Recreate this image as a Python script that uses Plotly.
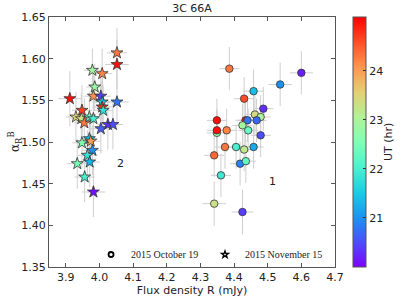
import numpy as np
import plotly.graph_objects as go

# 2015 November 15 (stars)
nov_flux = [4.052, 4.052, 3.979, 4.008, 3.986, 3.912, 3.982, 4.004, 4.052, 4.008,
            4.008, 4.011, 3.948, 3.930, 3.946, 3.955, 3.970, 3.982, 4.025, 4.040,
            4.004, 3.970, 3.974, 3.948, 3.979, 3.964, 3.934, 3.971, 3.956, 3.982]
nov_alpha = [1.607, 1.593, 1.586, 1.582, 1.566, 1.552, 1.555, 1.555, 1.548, 1.548,
             1.542, 1.538, 1.538, 1.530, 1.528, 1.523, 1.530, 1.528, 1.521, 1.521,
             1.516, 1.504, 1.501, 1.499, 1.490, 1.484, 1.474, 1.476, 1.458, 1.440]
nov_ut = [24.3, 25.0, 22.9, 24.2, 22.8, 25.0, 24.1, 20.4, 20.8, 21.5,
          24.8, 21.8, 24.7, 23.5, 23.3, 24.3, 22.3, 22.0, 20.3, 20.5,
          20.6, 21.4, 24.0, 22.6, 21.0, 21.8, 22.5, 21.3, 22.0, 20.1]
nov_xerr = [0.030, 0.035, 0.025, 0.030, 0.025, 0.035, 0.030, 0.030, 0.035, 0.030,
            0.030, 0.030, 0.030, 0.030, 0.030, 0.030, 0.030, 0.030, 0.030, 0.030,
            0.030, 0.025, 0.030, 0.030, 0.030, 0.030, 0.030, 0.030, 0.030, 0.035]
nov_yerr = [0.030, 0.030, 0.026, 0.030, 0.028, 0.033, 0.030, 0.030, 0.030, 0.030,
            0.030, 0.030, 0.030, 0.030, 0.030, 0.030, 0.030, 0.030, 0.030, 0.030,
            0.030, 0.030, 0.030, 0.030, 0.030, 0.030, 0.030, 0.030, 0.030, 0.030]

# 2015 October 19 (circles)
oct_flux = [4.386, 4.600, 4.537, 4.458, 4.430, 4.487, 4.462, 4.479, 4.467, 4.349,
            4.434, 4.440, 4.425, 4.349, 4.349, 4.378, 4.442, 4.479, 4.373, 4.406,
            4.430, 4.458, 4.341, 4.418, 4.435, 4.361, 4.341, 4.425]
oct_alpha = [1.588, 1.583, 1.569, 1.561, 1.552, 1.540, 1.533, 1.530, 1.526, 1.526,
             1.526, 1.526, 1.520, 1.511, 1.514, 1.514, 1.514, 1.508, 1.494, 1.494,
             1.491, 1.494, 1.484, 1.474, 1.477, 1.460, 1.426, 1.416]
oct_ut = [24.3, 20.2, 21.0, 21.4, 24.6, 20.3, 23.4, 23.0, 20.7, 25.0,
          25.0, 20.8, 22.9, 22.7, 25.0, 24.2, 22.3, 20.5, 24.3, 22.0,
          23.2, 21.2, 24.4, 20.9, 22.3, 21.9, 23.3, 20.4]
oct_xerr = [0.030, 0.034, 0.035, 0.030, 0.030, 0.030, 0.030, 0.030, 0.030, 0.030,
            0.030, 0.030, 0.030, 0.030, 0.030, 0.030, 0.030, 0.030, 0.030, 0.030,
            0.030, 0.030, 0.030, 0.030, 0.030, 0.030, 0.035, 0.032]
oct_yerr = [0.026, 0.026, 0.026, 0.026, 0.026, 0.026, 0.026, 0.026, 0.026, 0.026,
            0.026, 0.026, 0.026, 0.026, 0.026, 0.026, 0.026, 0.026, 0.026, 0.026,
            0.026, 0.026, 0.026, 0.026, 0.026, 0.026, 0.027, 0.027]

x_ticks = [3.9, 4.0, 4.1, 4.2, 4.3, 4.4, 4.5, 4.6, 4.7]
y_ticks = [1.35, 1.40, 1.45, 1.50, 1.55, 1.60, 1.65]
cbar_ticks = [21, 22, 23, 24]
labels = ["1", "2"]
label_x = [4.513, 4.061]
label_y = [1.453, 1.474]

# matplotlib "rainbow" colormap
s = np.linspace(0, 1, 11)
rainbow = []
for v in s:
    r = min(1, abs(2 * v - 0.5)); g = np.sin(np.pi * v); b = np.cos(np.pi * v / 2)
    rainbow.append([float(v), f"rgb({int(r*255)},{int(max(g,0)*255)},{int(max(b,0)*255)})"])

cmin, cmax = 20.0, 25.1
ebar = dict(type="data", color="#cfcfcf", thickness=1, width=0)
txt = dict(family="DejaVu Sans", size=11, color="#222")
leg_font = dict(family="Liberation Serif", size=10, color="#222")

fig = go.Figure()
fig.add_trace(go.Scatter(
    x=oct_flux, y=oct_alpha, mode="markers", showlegend=False,
    error_x=dict(array=oct_xerr, **ebar), error_y=dict(array=oct_yerr, **ebar),
    marker=dict(symbol="circle", size=7.5, color=oct_ut, colorscale=rainbow,
                cmin=cmin, cmax=cmax, line=dict(color="#333333", width=0.8),
                showscale=True,
                colorbar=dict(x=(353 - 49) / 286, xanchor="left", xpad=0, ypad=0,
                              thickness=13, thicknessmode="pixels",
                              len=250, lenmode="pixels", y=0.5, yanchor="middle",
                              outlinecolor="#555555", outlinewidth=1,
                              tickvals=cbar_ticks, ticks="inside", ticklen=3,
                              tickcolor="#333333", tickfont=txt))))
fig.add_trace(go.Scatter(
    x=nov_flux, y=nov_alpha, mode="markers", showlegend=False,
    error_x=dict(array=nov_xerr, **ebar), error_y=dict(array=nov_yerr, **ebar),
    marker=dict(symbol="star", size=9, color=nov_ut, colorscale=rainbow,
                cmin=cmin, cmax=cmax, line=dict(color="#333333", width=0.8))))

# legend proxies
fig.add_trace(go.Scatter(x=[None], y=[None], mode="markers", name="2015 October 19",
                         legend="legend",
                         marker=dict(symbol="circle", size=5, color="white",
                                     line=dict(color="black", width=1.8))))
fig.add_trace(go.Scatter(x=[None], y=[None], mode="markers", name="2015 November 15",
                         legend="legend2",
                         marker=dict(symbol="star", size=5, color="white",
                                     line=dict(color="black", width=1.4))))

for t, xx, yy in zip(labels, label_x, label_y):
    fig.add_annotation(x=xx, y=yy, text=t, showarrow=False, font=txt)

# y-axis title and colorbar title
fig.add_annotation(xref="paper", yref="paper", x=(15 - 49) / 286, y=0.5, text="α<sub>R</sub><sup>B</sup>",
                   textangle=-90, showarrow=False, xanchor="center", yanchor="middle",
                   font=dict(family="DejaVu Serif", size=12, color="#222"))
fig.add_annotation(xref="paper", yref="paper", x=(388 - 49) / 286, y=0.5, text="UT (hr)",
                   textangle=-90, showarrow=False, xanchor="center", yanchor="middle", font=txt)

axis_common = dict(showline=True, linecolor="#555555", linewidth=1, mirror="allticks",
                   ticks="inside", ticklen=4, tickcolor="#555555", showgrid=False,
                   zeroline=False, automargin=False, tickfont=txt)

leg_common = dict(orientation="h", y=0.05, yanchor="middle", xanchor="left",
                  bgcolor="rgba(0,0,0,0)", borderwidth=0, font=leg_font, itemwidth=30)

fig.update_layout(
    width=415, height=297, template="none",
    paper_bgcolor="white", plot_bgcolor="white",
    margin=dict(l=49, r=80, t=17, b=30),
    title=dict(text="3C 66A", x=(49 + 335) / 2 / 415, xanchor="center", y=0.985, yanchor="top",
               font=txt),
    xaxis=dict(range=[3.85, 4.7], tickvals=x_ticks, tickformat=".1f",
               title=dict(text="Flux density R (mJy)", standoff=2, font=txt),
               **axis_common),
    yaxis=dict(range=[1.35, 1.65], tickvals=y_ticks, tickformat=".2f", **axis_common),
    legend=dict(x=0.147, **leg_common),
    legend2=dict(x=(205 - 49) / 286, **leg_common),
)

fig.write_html("out.html", config={"displayModeBar": False},
               post_script="document.body.style.margin='0';")
